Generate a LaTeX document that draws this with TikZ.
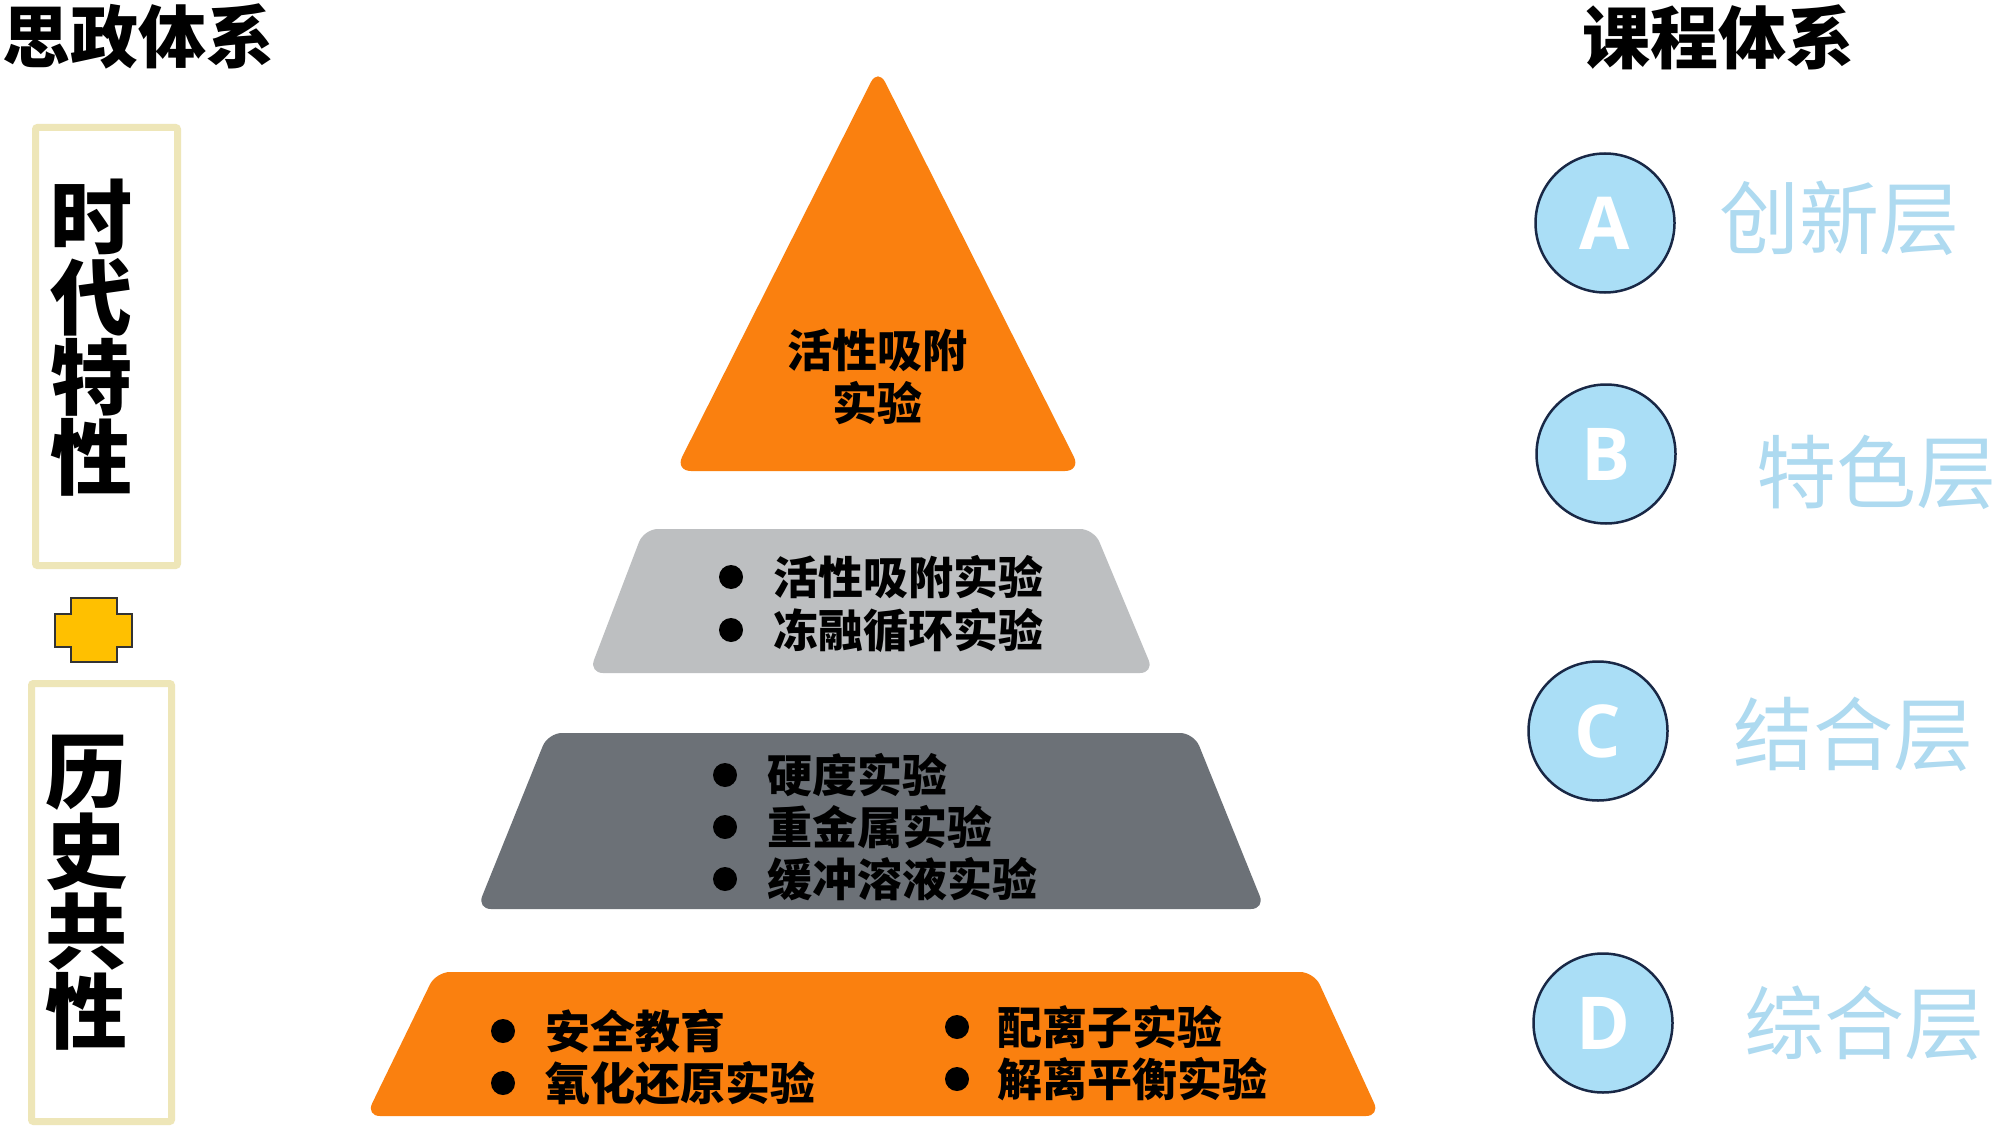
\documentclass[tikz,border=0pt]{standalone}
\usepackage{fontspec}
\newfontfamily\cjk{Noto Sans CJK SC}
\newfontfamily\latin{Open Sans}
\definecolor{orng}{RGB}{250,128,15}
\definecolor{lgray}{RGB}{189,191,193}
\definecolor{dgray}{RGB}{108,113,119}
\definecolor{boxc}{RGB}{238,230,184}
\definecolor{plusc}{RGB}{255,192,0}
\definecolor{cfill}{RGB}{170,222,246}
\definecolor{cline}{RGB}{25,40,70}
\definecolor{lblue}{RGB}{174,218,240}
\begin{document}
\begin{tikzpicture}[x=1pt,y=-1pt,
  title/.style={font=\cjk\bfseries\fontsize{68}{68}\selectfont, inner sep=0},
  vtext/.style={font=\cjk\bfseries\fontsize{82}{80}\selectfont, align=center, inner sep=0},
  frame/.style={draw=boxc, line width=7, rounded corners=2, inner sep=0},
  item/.style={font=\cjk\bfseries\fontsize{45}{45}\selectfont, anchor=west, inner sep=0},
  dot/.style={circle, fill=black, inner sep=0, minimum size=24},
  letter/.style={circle, fill=cfill, draw=cline, line width=2.5, minimum size=139, inner sep=0, text=white, font=\latin\bfseries\fontsize{73}{73}\selectfont},
  lbl/.style={text=lblue, font=\cjk\fontsize{80}{80}\selectfont, inner sep=0}]
\useasboundingbox (0,0) rectangle (2000,1134);
\fill[white] (0,0) rectangle (2000,1134);

% titles
\node[title] (tl) at (138,36) {思政体系};
\node[title] (tr) at (1718,37) {课程体系};

% left boxes
\node[frame, minimum width=142, minimum height=438] (box1) at (106.5,346.5) {};
\node[vtext] (v1) at (91,338) {时\\代\\特\\性};
\node[frame, minimum width=140, minimum height=438] (box2) at (101.5,902.5) {};
\node[vtext] (v2) at (86,893) {历\\史\\共\\性};

% plus sign
\filldraw[fill=plusc, draw=black!80, line width=2]
  (71,598) -- (117,598) -- (117,614) -- (132,614) -- (132,647) -- (117,647)
  -- (117,662) -- (71,662) -- (71,647) -- (55,647) -- (55,614) -- (71,614) -- cycle;

% pyramid
\fill[orng, rounded corners=16] (878,68) -- (1081,471) -- (675,471) -- cycle;
\node[font=\cjk\bfseries\fontsize{45}{53}\selectfont, align=center, inner sep=0] (top) at (877,377) {活性吸附\\实验};

\fill[lgray, rounded corners=14] (644,529) -- (1094,529) -- (1154,673) -- (589,673) -- cycle;
\node[dot] (d11) at (731,577) {};
\node[item] (i11) at (773,577) {活性吸附实验};
\node[dot] (d12) at (731,630) {};
\node[item] (i12) at (773,630) {冻融循环实验};

\fill[dgray, rounded corners=14] (548,733) -- (1194,733) -- (1265,909) -- (477,909) -- cycle;
\node[dot] (d21) at (725,775) {};
\node[item] (i21) at (767,775) {硬度实验};
\node[dot] (d22) at (725,827) {};
\node[item] (i22) at (767,827) {重金属实验};
\node[dot] (d23) at (725,879) {};
\node[item] (i23) at (767,879) {缓冲溶液实验};

\fill[orng, rounded corners=14] (436,972) -- (1314,972) -- (1380,1116) -- (366,1116) -- cycle;
\node[dot] (d31) at (503,1031) {};
\node[item] (i31) at (545,1031) {安全教育};
\node[dot] (d32) at (503,1083) {};
\node[item] (i32) at (545,1083) {氧化还原实验};
\node[dot] (d33) at (957,1027) {};
\node[item] (i33) at (997,1027) {配离子实验};
\node[dot] (d34) at (957,1079) {};
\node[item] (i34) at (997,1079) {解离平衡实验};

% right column
\node[letter] (ca) at (1605,223) {A};
\node[lbl] (la) at (1839,218) {创新层};
\node[letter] (cb) at (1606,454) {B};
\node[lbl] (lb) at (1876,472) {特色层};
\node[letter] (cc) at (1598,731) {C};
\node[lbl] (lc) at (1853,734) {结合层};
\node[letter] (cd) at (1603,1023) {D};
\node[lbl] (ld) at (1864,1023) {综合层};
\end{tikzpicture}
\end{document}
